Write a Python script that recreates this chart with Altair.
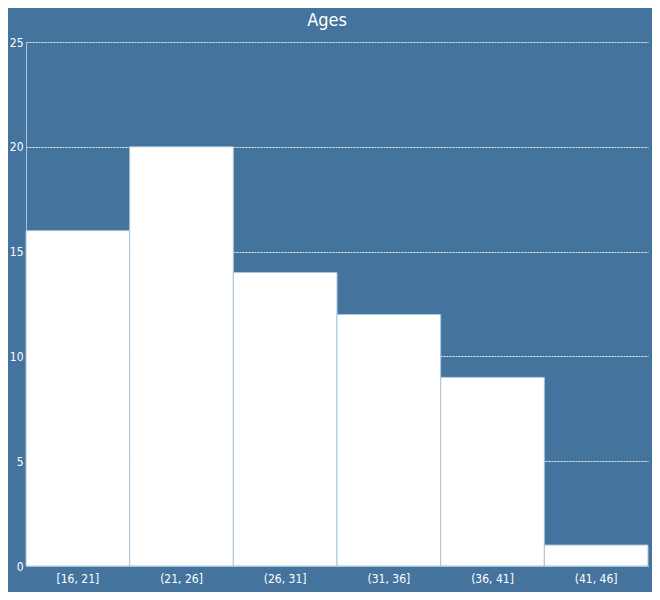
import altair as alt
import pandas as pd

bins = ["[16, 21]", "(21, 26]", "(26, 31]", "(31, 36]", "(36, 41]", "(41, 46]"]
counts = [16, 20, 14, 12, 9, 1]

df = pd.DataFrame({"bin": bins, "count": counts})

FONT = "DejaVu Sans Condensed, Roboto Condensed, Liberation Sans Narrow, sans-serif"
BG = "#44739e"

chart = alt.Chart(df).mark_bar(
    color="white", stroke="#a9c4d9", strokeWidth=1
).encode(
    x=alt.X("bin:N", sort=bins, title=None,
            scale=alt.Scale(paddingInner=0, paddingOuter=0),
            axis=alt.Axis(labelAngle=0, ticks=False, domain=True, domainColor="#a9c4d9",
                          labelColor="white", labelFont=FONT, labelFontSize=12,
                          labelPadding=7, grid=False)),
    y=alt.Y("count:Q", title=None,
            scale=alt.Scale(domain=[0, 25], nice=False),
            axis=alt.Axis(values=[0, 5, 10, 15, 20, 25], ticks=False, domain=True,
                          domainColor="#a9c4d9", labelColor="white", labelFont=FONT,
                          labelFontSize=12, labelPadding=3, grid=True,
                          gridColor="#e8eef4", gridDash=[2, 1], gridWidth=1)),
).properties(
    width=622, height=524,
    background=BG,
    padding={"left": 18, "top": 34, "right": 4, "bottom": 26},
    autosize=alt.AutoSizeParams(type="none"),
    title=alt.TitleParams("Ages", color="white", font=FONT, fontSize=18,
                          fontWeight="normal", anchor="middle", offset=6, dx=-10),
).configure_view(stroke=None)

chart.save("out.html", embed_options={"renderer": "svg", "actions": False})
